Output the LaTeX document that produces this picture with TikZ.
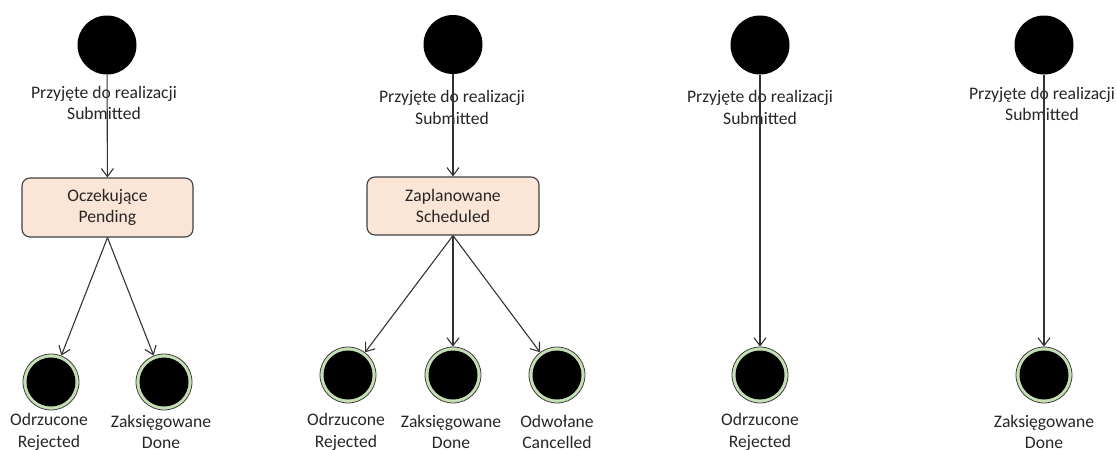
\documentclass[tikz,border=0pt]{standalone}
\usepackage{fontspec}
\setmainfont{Carlito}
\usetikzlibrary{arrows.meta}
\begin{document}
\begin{tikzpicture}[x=1pt,y=-1pt,
  every node/.style={font=\fontsize{17.6}{21.5}\selectfont, text=black!85},
  startstate/.style={circle, fill=black, minimum size=59pt, inner sep=0pt},
  endstate/.style={circle, draw=black!75, line width=0.8pt, fill=endgreen,
    minimum size=56pt, inner sep=0pt,
    path picture={\fill[black] (path picture bounding box.center) circle (24.5pt);}},
  statebox/.style={rectangle, rounded corners=8pt, draw=black!75, line width=1.1pt, fill=boxpeach,
    minimum width=171pt, minimum height=59pt, align=center, inner sep=0pt},
  lbl/.style={align=center, inner sep=0pt},
  arr/.style={draw=black!80, line width=1.1pt, -{Straight Barb[length=8pt,width=12pt]}}
]
\definecolor{endgreen}{HTML}{C5E0B4}
\definecolor{boxpeach}{HTML}{FBE5D6}
\useasboundingbox (0,0) rectangle (1117,450);

% first flow: submitted -> pending -> rejected / done
\node[startstate] (s1) at (107,45) {};
\node[lbl] (l1) at (104,103) {Przyjęte do realizacji\\Submitted};
\node[statebox] (b1) at (107.5,207.5) {Oczekujące\\Pending};
\node[endstate] (e1a) at (51,382) {};
\node[endstate] (e1b) at (164,382) {};
\node[lbl] (t1a) at (49,432) {Odrzucone\\Rejected};
\node[lbl] (t1b) at (161,432) {Zaksięgowane\\Done};
\draw[arr] (s1) -- (b1);
\draw[arr] (b1.south) -- (e1a);
\draw[arr] (b1.south) -- (e1b);

% second flow: submitted -> scheduled -> rejected / done / cancelled
\node[startstate] (s2) at (453,44.5) {};
\node[lbl] (l2) at (452,107.5) {Przyjęte do realizacji\\Submitted};
\node[statebox, minimum width=172pt, minimum height=58pt] (b2) at (453,206) {Zaplanowane\\Scheduled};
\node[endstate] (e2a) at (348,375) {};
\node[endstate] (e2b) at (453,375) {};
\node[endstate] (e2c) at (557,375) {};
\node[lbl] (t2a) at (346,432) {Odrzucone\\Rejected};
\node[lbl] (t2b) at (451,432) {Zaksięgowane\\Done};
\node[lbl] (t2c) at (557,432) {Odwołane\\Cancelled};
\draw[arr] (s2) -- (b2);
\draw[arr] (b2.south) -- (e2a);
\draw[arr] (b2.south) -- (e2b);
\draw[arr] (b2.south) -- (e2c);

% third flow: submitted -> rejected
\node[startstate] (s3) at (760,45) {};
\node[lbl] (l3) at (760,107.5) {Przyjęte do realizacji\\Submitted};
\node[endstate] (e3) at (760,375) {};
\node[lbl] (t3) at (760,432) {Odrzucone\\Rejected};
\draw[arr] (s3) -- (e3);

% fourth flow: submitted -> done
\node[startstate] (s4) at (1044,45) {};
\node[lbl] (l4) at (1042,104) {Przyjęte do realizacji\\Submitted};
\node[endstate] (e4) at (1044,375) {};
\node[lbl] (t4) at (1044,432) {Zaksięgowane\\Done};
\draw[arr] (s4) -- (e4);
\end{tikzpicture}
\end{document}
